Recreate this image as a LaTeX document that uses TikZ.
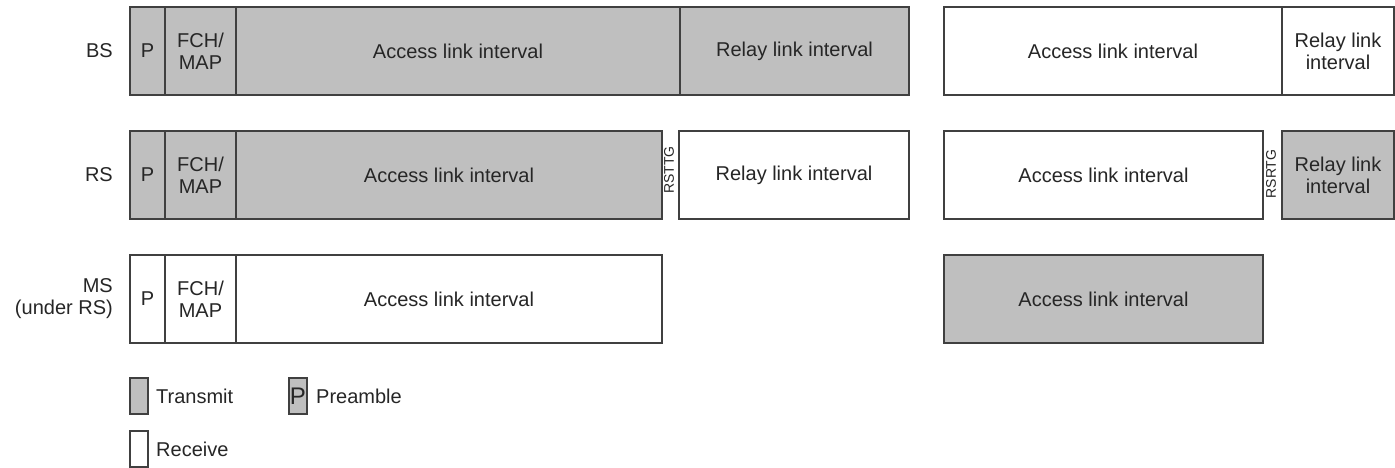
\documentclass[tikz,border=0pt]{standalone}
\usepackage{fontspec}
\setmainfont{Liberation Sans}
\begin{document}
\begin{tikzpicture}[x=1pt, y=-1pt]
    \tikzstyle{cell}=[rectangle, draw=black!75, line width=1.6pt, minimum height=88pt, inner sep=0pt, align=center, text=black!85, font=\fontsize{20}{22}\selectfont]
    \tikzstyle{tx}=[fill=black!25]
    \tikzstyle{rx}=[fill=white]
    \tikzstyle{gap}=[rotate=90, inner sep=0pt, text=black!85, font=\fontsize{14}{16}\selectfont]
    \tikzstyle{lbl}=[anchor=east, align=right, inner sep=0pt, text=black!85, font=\fontsize{20}{22}\selectfont]
    \tikzstyle{key}=[rectangle, draw=black!75, line width=1.6pt, minimum width=18pt, minimum height=36pt, inner sep=0pt]
    \tikzstyle{keytext}=[anchor=west, inner sep=0pt, text=black!85, font=\fontsize{20}{22}\selectfont]

    \useasboundingbox (0,0) rectangle (1395,468);

    % BS
    \node[lbl] (bs) at (113,51) {BS};
    \node[cell, tx, minimum width=35pt] (bsP) at (147.5,51) {P};
    \node[cell, tx, minimum width=71pt] (bsF) at (200.5,51) {FCH/\\MAP};
    \node[cell, tx, minimum width=444pt] (bsA) at (458,51) {Access link interval};
    \node[cell, tx, minimum width=229pt] (bsR) at (794.5,51) {Relay link interval};
    \node[cell, rx, minimum width=338pt] (bsA2) at (1113,51) {Access link interval};
    \node[cell, rx, minimum width=112pt] (bsR2) at (1338,51) {Relay link\\interval};

    % RS
    \node[lbl] (rs) at (113,175) {RS};
    \node[cell, tx, minimum width=35pt] (rsP) at (147.5,175) {P};
    \node[cell, tx, minimum width=71pt] (rsF) at (200.5,175) {FCH/\\MAP};
    \node[cell, tx, minimum width=426pt] (rsA) at (449,175) {Access link interval};
    \node[gap] (rsttg) at (669,170) {RSTTG};
    \node[cell, rx, minimum width=230pt] (rsR) at (794,175) {Relay link interval};
    \node[cell, rx, minimum width=319pt] (rsA2) at (1103.5,175) {Access link interval};
    \node[gap] (rsrtg) at (1271,174) {RSRTG};
    \node[cell, tx, minimum width=112pt] (rsR2) at (1338,175) {Relay link\\interval};

    % MS
    \node[lbl] (ms) at (113,299) {MS\\(under RS)};
    \node[cell, rx, minimum width=35pt] (msP) at (147.5,299) {P};
    \node[cell, rx, minimum width=71pt] (msF) at (200.5,299) {FCH/\\MAP};
    \node[cell, rx, minimum width=426pt] (msA) at (449,299) {Access link interval};
    \node[cell, tx, minimum width=319pt] (msA2) at (1103.5,299) {Access link interval};

    % legend
    \node[key, tx] (kTx) at (139,396) {};
    \node[keytext] (tTx) at (156,396) {Transmit};
    \node[key, tx, text=black!85, font=\fontsize{24}{26}\selectfont] (kP) at (298,396) {P};
    \node[keytext] (tP) at (316,396) {Preamble};
    \node[key, rx] (kRx) at (139,449) {};
    \node[keytext] (tRx) at (156,449) {Receive};
  \end{tikzpicture}
\end{document}
